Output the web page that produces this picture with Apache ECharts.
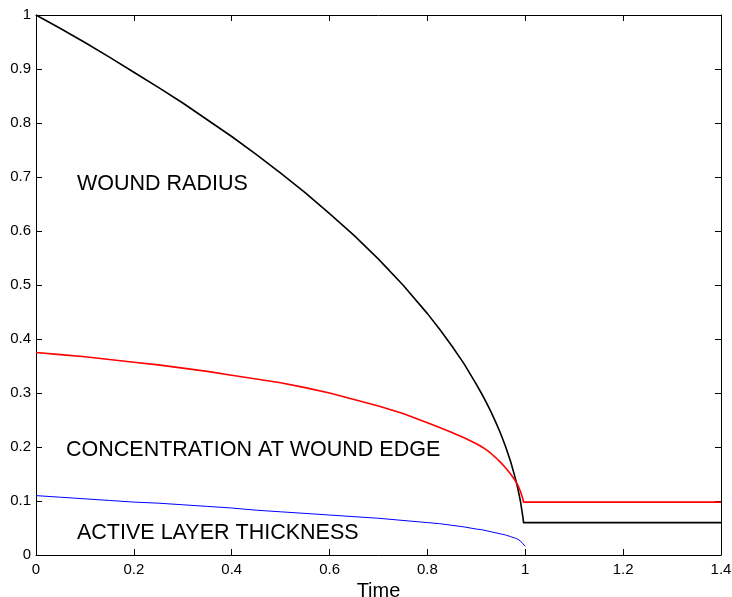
<!DOCTYPE html>
<html>
<head>
<meta charset="utf-8">
<title>Wound healing</title>
<script src="https://cdn.jsdelivr.net/npm/echarts@6/dist/echarts.min.js"></script>
<style>
  html, body { margin: 0; padding: 0; background: #fff; }
  #chart { width: 732px; height: 597px; }
</style>
</head>
<body>
<div id="chart"></div>
<script>
// Sample times for the radius and edge concentration curves
const timeMain = [0, 0.05, 0.1, 0.15, 0.2, 0.25, 0.3, 0.35, 0.4, 0.45, 0.5, 0.55, 0.6, 0.65,
  0.7, 0.75, 0.8, 0.825, 0.85, 0.875, 0.9, 0.91, 0.92, 0.93, 0.94, 0.95, 0.96, 0.97, 0.98, 0.985,
  0.99, 0.995, 0.9965, 1.0, 1.4];

// Wound radius
const woundRadius = [1.0, 0.975, 0.949, 0.922, 0.894, 0.866, 0.837, 0.806, 0.775, 0.742, 0.707,
  0.671, 0.632, 0.592, 0.548, 0.5, 0.447, 0.418, 0.387, 0.354, 0.316, 0.3, 0.283, 0.265, 0.245,
  0.224, 0.2, 0.173, 0.141, 0.122, 0.1, 0.071, 0.06, 0.06, 0.06];

// Concentration at the wound edge
const edgeConcentration = [0.375, 0.371, 0.367, 0.362, 0.357, 0.352, 0.346, 0.34, 0.333, 0.326,
  0.319, 0.31, 0.3, 0.288, 0.276, 0.262, 0.245, 0.236, 0.227, 0.217, 0.206, 0.201, 0.195, 0.188,
  0.18, 0.171, 0.161, 0.15, 0.137, 0.129, 0.118, 0.104, 0.098, 0.098, 0.098];

// Active layer thickness (defined until the wound closes)
const timeLayer = [0, 0.05, 0.1, 0.15, 0.2, 0.25, 0.3, 0.35, 0.4, 0.45, 0.5, 0.55, 0.6, 0.65,
  0.7, 0.75, 0.8, 0.825, 0.85, 0.875, 0.9, 0.91, 0.92, 0.93, 0.94, 0.95, 0.96, 0.97, 0.98, 0.985,
  0.99, 0.995, 1.0];
const layerThickness = [0.11, 0.107, 0.104, 0.101, 0.098, 0.096, 0.093, 0.09, 0.087, 0.083, 0.08,
  0.077, 0.074, 0.071, 0.068, 0.064, 0.06, 0.058, 0.055, 0.052, 0.048, 0.047, 0.045, 0.043, 0.041,
  0.039, 0.037, 0.034, 0.031, 0.029, 0.026, 0.021, 0.016];

const curveLabels = ['WOUND RADIUS', 'CONCENTRATION AT WOUND EDGE', 'ACTIVE LAYER THICKNESS'];

const FONT = '"Liberation Sans", Arial, Helvetica, sans-serif';

function pairs(xs, ys) {
  return xs.map((x, i) => [x, ys[i]]);
}

const fmt = v => String(Math.round(v * 10) / 10);

const chart = echarts.init(document.getElementById('chart'), null, { renderer: 'canvas' });

const mirrorAxis = {
  axisLine: { show: true, onZero: false, lineStyle: { color: '#000', width: 1 } },
  axisTick: { show: true, inside: true, length: 6, lineStyle: { color: '#000' } },
  axisLabel: { show: false },
  splitLine: { show: false }
};

const lineCommon = { showSymbol: false, smooth: false, clip: true };

chart.setOption({
  animation: false,
  backgroundColor: '#fff',
  grid: { left: 36, right: 11, top: 15, bottom: 42, show: false, containLabel: false, outerBoundsMode: 'none' },
  xAxis: [
    {
      type: 'value', min: 0, max: 1.4, interval: 0.2, position: 'bottom',
      name: 'Time', nameLocation: 'middle', nameGap: 24,
      nameTextStyle: { fontFamily: FONT, fontSize: 20, color: '#000' },
      axisLine: { show: true, onZero: false, lineStyle: { color: '#000', width: 1 } },
      axisTick: { show: true, inside: true, length: 6, lineStyle: { color: '#000' } },
      axisLabel: { fontFamily: FONT, fontSize: 15, color: '#000', margin: 7, formatter: fmt },
      splitLine: { show: false }
    },
    Object.assign({ type: 'value', min: 0, max: 1.4, interval: 0.2, position: 'top' }, mirrorAxis)
  ],
  yAxis: [
    {
      type: 'value', min: 0, max: 1, interval: 0.1, position: 'left',
      axisLine: { show: true, onZero: false, lineStyle: { color: '#000', width: 1 } },
      axisTick: { show: true, inside: true, length: 6, lineStyle: { color: '#000' } },
      axisLabel: { fontFamily: FONT, fontSize: 15, color: '#000', margin: 5, formatter: fmt },
      splitLine: { show: false }
    },
    Object.assign({ type: 'value', min: 0, max: 1, interval: 0.1, position: 'right' }, mirrorAxis)
  ],
  series: [
    Object.assign({
      type: 'line', name: curveLabels[0], data: pairs(timeMain, woundRadius),
      lineStyle: { color: '#000', width: 1.6, join: 'round' }
    }, lineCommon),
    Object.assign({
      type: 'line', name: curveLabels[1], data: pairs(timeMain, edgeConcentration),
      lineStyle: { color: '#ff0000', width: 1.6, join: 'round' }
    }, lineCommon),
    Object.assign({
      type: 'line', name: curveLabels[2], data: pairs(timeLayer, layerThickness),
      lineStyle: { color: '#0000ff', width: 1, join: 'round' }
    }, lineCommon)
  ],
  graphic: [
    { type: 'text', left: 77, top: 173, style: { text: curveLabels[0], font: '21.5px ' + FONT, fill: '#000' } },
    { type: 'text', left: 66, top: 439, style: { text: curveLabels[1], font: '21.5px ' + FONT, fill: '#000' } },
    { type: 'text', left: 77, top: 522, style: { text: curveLabels[2], font: '21.5px ' + FONT, fill: '#000' } }
  ]
});
</script>
</body>
</html>
